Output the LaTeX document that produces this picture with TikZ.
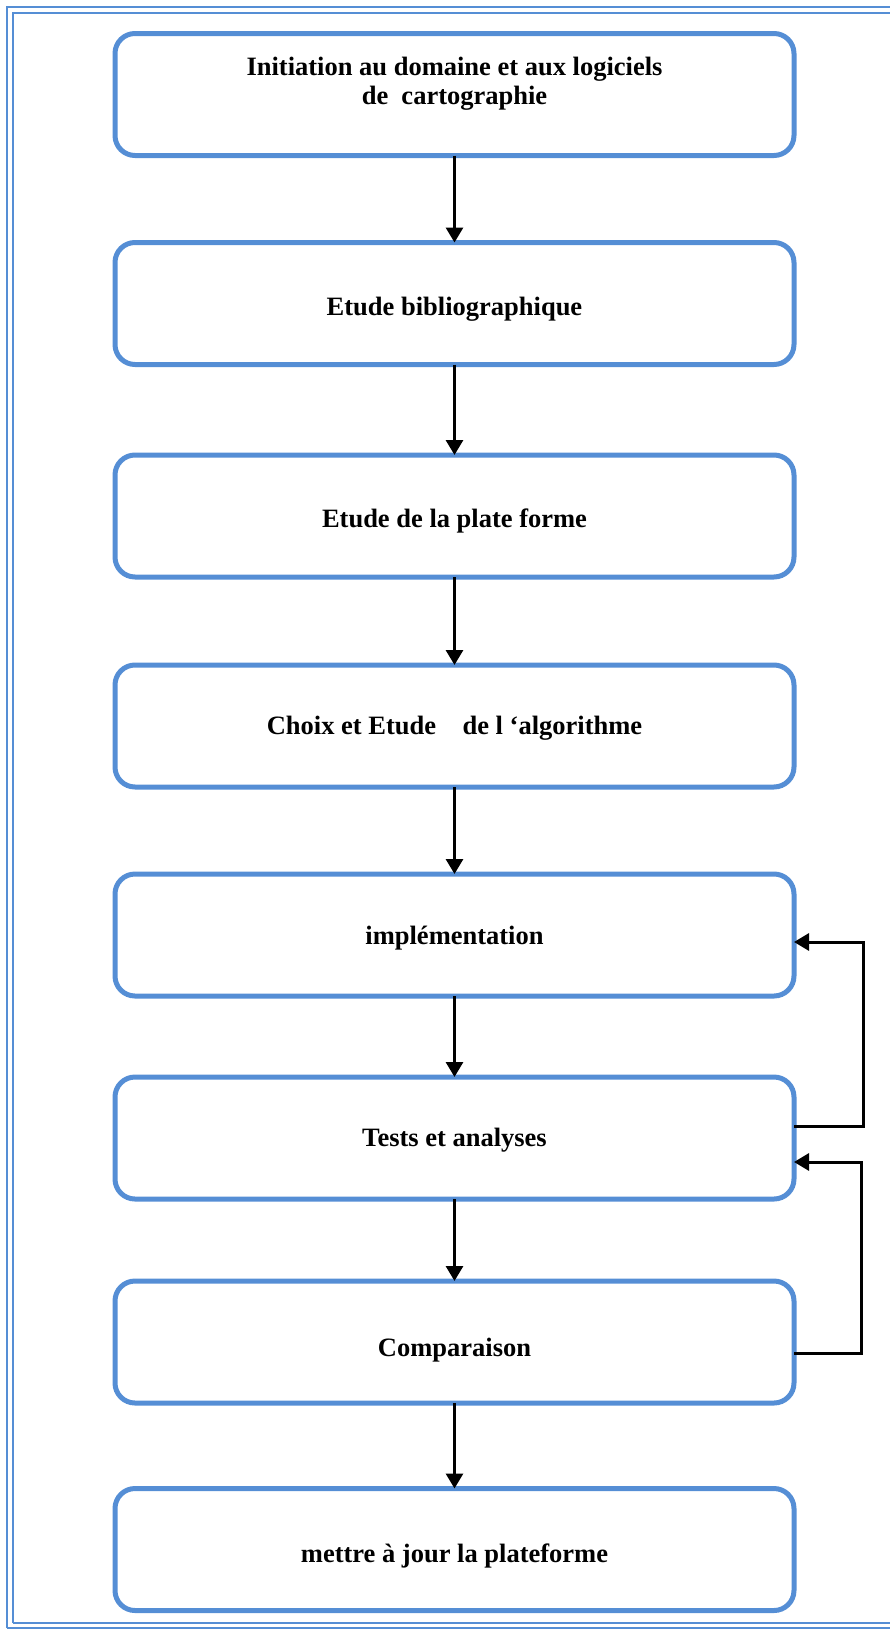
\documentclass[tikz,border=0pt]{standalone}
\usepackage{fontspec}
\setmainfont{Liberation Serif}
\usetikzlibrary{arrows.meta,calc}
\definecolor{boxblue}{RGB}{85,142,213}
\begin{document}
\begin{tikzpicture}[x=1pt,y=-1pt,
  stagebox/.style={draw=boxblue,line width=5pt,rounded corners=20pt,
    minimum width=679pt,minimum height=122pt,inner sep=0pt,outer sep=0pt},
  stagetext/.style={font=\fontsize{26.5}{29}\selectfont\bfseries,
    anchor=base,inner sep=0pt,align=center},
  flow/.style={line width=3pt,-{Triangle[length=15pt,width=17pt]}},
  frameline/.style={draw=boxblue,line width=1.6pt}]
\useasboundingbox (0,0) rectangle (890,1630);

% double page frame (right side runs off the page)
\draw[frameline] (7,1628) -- (7,7) -- (900,7);
\draw[frameline] (900,1628) -- (7,1628);
\draw[frameline] (13,1623) -- (13,13) -- (900,13);
\draw[frameline] (900,1623) -- (13,1623);

% stages
\node[stagebox] (b1) at (454.5,94.5) {};
\node[stagebox] (b2) at (454.5,303.5) {};
\node[stagebox] (b3) at (454.5,516) {};
\node[stagebox] (b4) at (454.5,726) {};
\node[stagebox] (b5) at (454.5,935) {};
\node[stagebox] (b6) at (454.5,1138) {};
\node[stagebox] (b7) at (454.5,1342) {};
\node[stagebox] (b8) at (454.5,1549.5) {};

% stage labels
\node[stagetext,anchor=north] (t1) at (454.5,57) {Initiation au domaine et aux logiciels\\de\ \ cartographie};
\node[stagetext] (t2) at (454.5,315.5) {Etude bibliographique};
\node[stagetext] (t3) at (454.5,527) {Etude de la plate forme};
\node[stagetext] (t4) at (454.5,734) {Choix et Etude\ \ \ \ de l ‘algorithme};
\node[stagetext] (t5) at (454.5,944) {implémentation};
\node[stagetext] (t6) at (454.5,1146) {Tests et analyses};
\node[stagetext] (t7) at (454.5,1356) {Comparaison};
\node[stagetext] (t8) at (454.5,1562) {mettre à jour la plateforme};

% main sequence
\draw[flow] (b1.south) -- (b2.north);
\draw[flow] (b2.south) -- (b3.north);
\draw[flow] (b3.south) -- (b4.north);
\draw[flow] (b4.south) -- (b5.north);
\draw[flow] (b5.south) -- (b6.north);
\draw[flow] (b6.south) -- (b7.north);
\draw[flow] (b7.south) -- (b8.north);

% feedback loops
\draw[flow] ($(b6.east)+(0,-12)$) -- ++(69,0) |- ($(b5.east)+(0,7)$);
\draw[flow] ($(b7.east)+(0,11)$) -- ++(67,0) |- ($(b6.east)+(0,24)$);
\end{tikzpicture}
\end{document}
